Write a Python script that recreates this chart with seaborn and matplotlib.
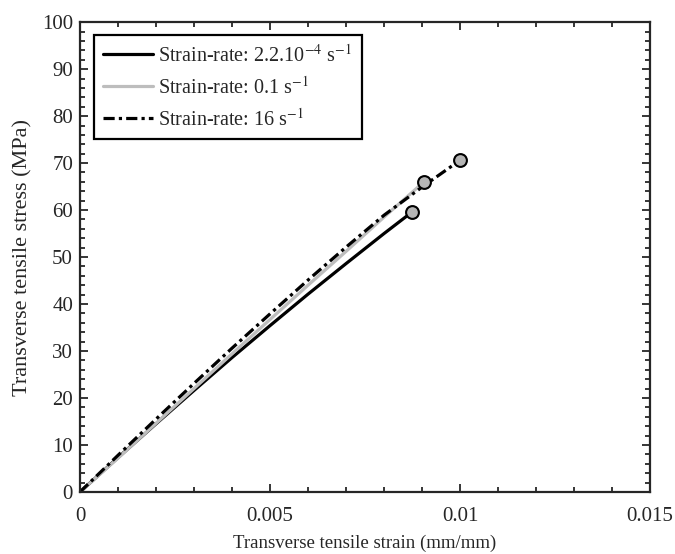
import numpy as np
import pandas as pd
import seaborn as sns
import matplotlib.pyplot as plt
from matplotlib.ticker import MultipleLocator

# values
strain_slow = [0, 0.001, 0.002, 0.003, 0.004, 0.005, 0.006, 0.007, 0.008, 0.00874]
stress_slow = [0, 7.3, 14.5, 21.6, 28.6, 35.4, 42.1, 48.6, 55.0, 59.6]
strain_mid = [0, 0.001, 0.002, 0.003, 0.004, 0.005, 0.006, 0.007, 0.008, 0.00905]
stress_mid = [0, 7.2, 14.6, 22.0, 29.4, 36.7, 44.0, 51.2, 58.5, 66.0]
strain_fast = [0, 0.001, 0.002, 0.003, 0.004, 0.005, 0.006, 0.007, 0.008, 0.009, 0.01]
stress_fast = [0, 7.8, 15.5, 23.1, 30.6, 37.9, 45.1, 52.1, 58.9, 64.9, 70.6]
labels = ['Strain-rate: 2.2.10$^{-4}$ s$^{-1}$', 'Strain-rate: 0.1 s$^{-1}$', 'Strain-rate: 16 s$^{-1}$']

df = pd.concat([
    pd.DataFrame({'strain': strain_slow, 'stress': stress_slow, 'rate': labels[0]}),
    pd.DataFrame({'strain': strain_mid, 'stress': stress_mid, 'rate': labels[1]}),
    pd.DataFrame({'strain': strain_fast, 'stress': stress_fast, 'rate': labels[2]}),
])
ends = df.groupby('rate', sort=False).tail(1)

sns.set_style('ticks')
plt.rcParams['font.family'] = ['Liberation Serif', 'DejaVu Serif']
plt.rcParams['mathtext.fontset'] = 'stix'

fig = plt.figure(figsize=(6.75, 5.54), dpi=100)
ax = fig.add_axes([0.1185, 0.112, 0.8445, 0.848])

dashdot = [3.5, 1.3, 1.0, 1.3]
palette = {labels[0]: 'black', labels[1]: '#bdbdbd', labels[2]: 'black'}
sns.lineplot(data=df, x='strain', y='stress', hue='rate', palette=palette, ax=ax,
             linewidth=2.3, sort=False, estimator=None)
ax.lines[2].set_dashes(dashdot)
sns.scatterplot(data=ends, x='strain', y='stress', ax=ax, color='#b5b5b5',
                edgecolor='black', linewidth=1.5, s=85, zorder=5, legend=False)

ax.set_xlim(0, 0.015)
ax.set_ylim(0, 100)
ax.set_xticks([0, 0.005, 0.01, 0.015])
ax.set_xticklabels(['0', '0.005', '0.01', '0.015'])
ax.set_yticks(range(0, 101, 10))
ax.xaxis.set_minor_locator(MultipleLocator(0.001))
ax.yaxis.set_minor_locator(MultipleLocator(2))
ax.tick_params(which='both', direction='in', top=True, right=True, labelsize=15, width=1.3)
ax.tick_params(axis='x', which='major', pad=11)
ax.tick_params(axis='y', which='major', pad=5)
ax.tick_params(which='major', length=6)
ax.tick_params(which='minor', length=3.5)
for s in ax.spines.values():
    s.set_linewidth(1.6)
ax.set_xlabel('Transverse tensile strain (mm/mm)', fontsize=13.5, labelpad=6)
ax.set_ylabel('Transverse tensile stress (MPa)', fontsize=16, labelpad=7)

handles, _ = ax.get_legend_handles_labels()
handles[2].set_dashes(dashdot)
leg = ax.legend(handles, labels, loc='upper left', bbox_to_anchor=(0.0246, 0.972),
                borderaxespad=0, fontsize=14.5, frameon=True, fancybox=False,
                edgecolor='black', framealpha=1, handlelength=2.5, handletextpad=0.25,
                labelspacing=0.5, borderpad=0.45)
leg.get_frame().set_linewidth(1.6)

fig.savefig('out.png', dpi=100)
